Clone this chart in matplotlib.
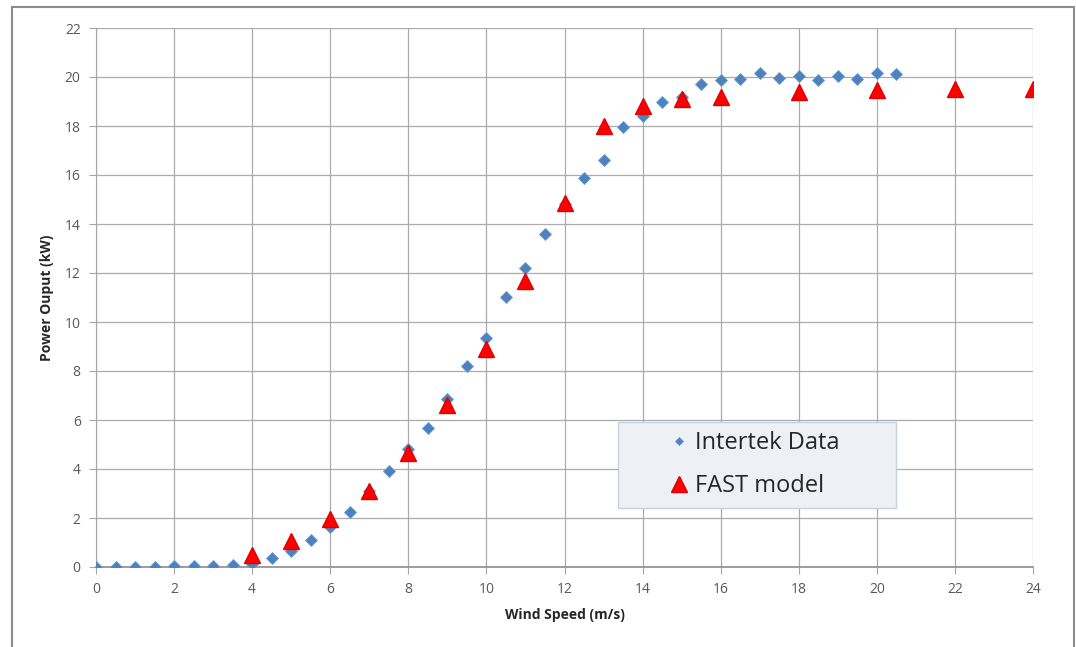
import matplotlib.pyplot as plt
from matplotlib.patches import Rectangle

# Intertek measured power curve
intertek_ws = [0, 0.5, 1, 1.5, 2, 2.5, 3, 3.5, 4, 4.5, 5, 5.5, 6, 6.5, 7, 7.5, 8, 8.5, 9, 9.5,
               10, 10.5, 11, 11.5, 12, 12.5, 13, 13.5, 14, 14.5, 15, 15.5, 16, 16.5, 17, 17.5,
               18, 18.5, 19, 19.5, 20, 20.5]
intertek_kw = [0.0, 0.0, 0.0, 0.0, 0.05, 0.05, 0.05, 0.08, 0.12, 0.38, 0.65, 1.12, 1.65, 2.25,
               3.1, 3.9, 4.8, 5.68, 6.85, 8.2, 9.36, 11.02, 12.2, 13.58, 14.8, 15.87, 16.6,
               17.97, 18.4, 18.96, 19.2, 19.7, 19.88, 19.9, 20.17, 19.95, 20.04, 19.88, 20.05,
               19.9, 20.18, 20.14]

# FAST model
fast_ws = [4, 5, 6, 7, 8, 9, 10, 11, 12, 13, 14, 15, 16, 18, 20, 22, 24]
fast_kw = [0.5, 1.05, 1.95, 3.1, 4.65, 6.6, 8.88, 11.67, 14.85, 18.0, 18.8, 19.1, 19.17,
           19.37, 19.48, 19.5, 19.5]

xticks = list(range(0, 25, 2))
yticks = list(range(0, 23, 2))

plt.rcParams['font.family'] = ['Open Sans', 'DejaVu Sans']

fig = plt.figure(figsize=(10.76, 6.47), dpi=100)
fig.patches.append(Rectangle((12 / 1076, -0.05), (1074 - 12) / 1076, 1 - 7 / 647 + 0.05,
                             transform=fig.transFigure, fill=False, edgecolor='#8c8c8c',
                             linewidth=1.5))
ax = fig.add_axes([96 / 1076, 1 - 567 / 647, (1033 - 96) / 1076, (567 - 28) / 647])

ax.plot(intertek_ws, intertek_kw, 'D', color='#4f81bd', markeredgecolor='#6a9bd1',
        markeredgewidth=0.6, markersize=6, label='Intertek Data', zorder=3)
ax.plot(fast_ws, fast_kw, '^', color='#ff0000', markeredgecolor='#e00000',
        markersize=12, label='FAST model', zorder=4)

ax.set_xlim(0, 24)
ax.set_ylim(0, 22)
ax.set_xticks(xticks)
ax.set_yticks(yticks)
ax.grid(True, color='#ababab', linewidth=0.9)
ax.set_axisbelow(True)
for side in ['top', 'right']:
    ax.spines[side].set_visible(False)
ax.spines['left'].set_color('#a6a6a6')
ax.spines['bottom'].set_color('#8c8c8c')
ax.spines['bottom'].set_linewidth(1.2)
ax.tick_params(axis='both', colors='#a6a6a6', labelcolor='#595959', labelsize=10,
               length=5, pad=6)

ax.set_xlabel('Wind Speed (m/s)', fontsize=10, fontweight='bold', color='#262626', labelpad=8)
ax.set_ylabel('Power Ouput (kW)', fontsize=10, fontweight='bold', color='#262626', labelpad=8)

# legend box drawn behind a frameless legend
ax.add_patch(Rectangle(((618 - 96) / 937, (567 - 508) / 539), (896 - 618) / 937,
                       (508 - 422) / 539, transform=ax.transAxes, facecolor='#edf0f5',
                       edgecolor='#c9d1dd', linewidth=1.0, zorder=5))
leg = ax.legend(loc='center left', bbox_to_anchor=((669.6 - 96) / 937, (567 - 464.5) / 539),
                fontsize=17, frameon=False, borderpad=0, borderaxespad=0,
                labelspacing=0.8, handletextpad=0.28, handlelength=0.8)
leg.set_zorder(6)
leg.legend_handles[0].set_markersize(4.5)
leg.legend_handles[1].set_markersize(11)
for t in leg.get_texts():
    t.set_color('#262626')

fig.savefig('out.png', dpi=100)
